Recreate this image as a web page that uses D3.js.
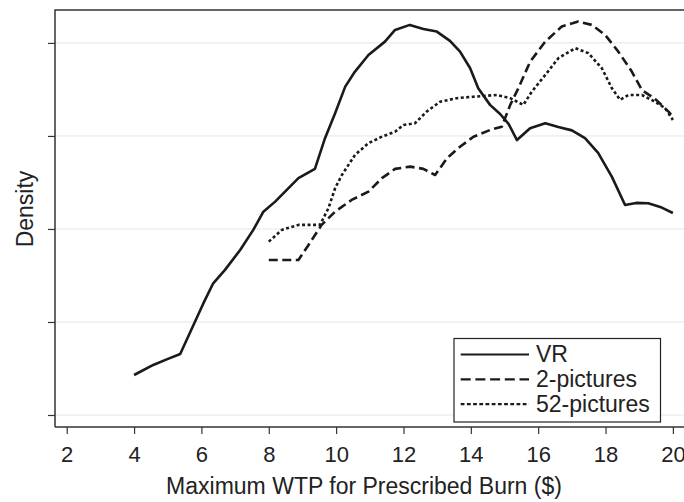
<!DOCTYPE html>
<html><head><meta charset="utf-8">
<script src="https://cdn.jsdelivr.net/npm/d3@7"></script>
<style>body{margin:0;background:#fff;} svg{display:block;font-family:"Liberation Sans",Arial,sans-serif;}</style>
</head><body><div id="chart"></div>
<script>
const xTicks = [2,4,6,8,10,12,14,16,18,20];
const yTicks = [0,0.05,0.1,0.15,0.2];
const seriesNames = ["VR","2-pictures","52-pictures"];
const vrX = [4.0,4.57,4.97,5.37,6.06,6.35,6.70,7.15,7.54,7.84,8.19,8.88,9.37,9.67,9.97,10.27,10.56,10.96,11.45,11.75,12.19,12.59,12.99,13.38,13.68,13.98,14.22,14.57,14.87,15.12,15.37,15.76,16.21,16.60,17.00,17.39,17.78,18.19,18.58,18.91,19.27,19.67,20.0];
const vrY = [0.0215,0.0269,0.0299,0.0328,0.0601,0.0708,0.0780,0.0887,0.0995,0.1093,0.1147,0.1273,0.1323,0.1488,0.1622,0.1765,0.1846,0.1935,0.2007,0.2070,0.2097,0.2075,0.2061,0.2011,0.1953,0.1864,0.1756,0.1667,0.1618,0.1565,0.1478,0.1541,0.1568,0.1548,0.1530,0.1488,0.1409,0.1280,0.1129,0.1140,0.1138,0.1115,0.1086];
const p2X = [8.0,8.88,9.18,9.57,9.97,10.46,10.96,11.36,11.75,12.20,12.59,12.94,13.30,13.68,14.08,14.57,14.92,15.17,15.41,15.76,16.21,16.70,17.19,17.59,17.99,18.38,18.78,19.08,19.47,19.87,20.0];
const p2Y = [0.0833,0.0833,0.0914,0.1022,0.1093,0.1156,0.1201,0.1273,0.1323,0.1335,0.1323,0.1290,0.1382,0.1442,0.1496,0.1532,0.1550,0.1667,0.1756,0.1899,0.2007,0.2088,0.2115,0.2097,0.2043,0.1953,0.1846,0.1747,0.1699,0.1631,0.1602];
const p52X = [8.0,8.39,8.88,9.52,9.77,9.97,10.17,10.56,10.96,11.36,11.75,12.00,12.34,12.69,13.09,13.58,14.08,14.77,15.17,15.56,15.81,16.21,16.60,17.10,17.49,17.89,18.19,18.43,18.68,19.08,19.47,19.77,20.0];
const p52Y = [0.0932,0.0995,0.1022,0.1022,0.1111,0.1219,0.1290,0.1398,0.1461,0.1496,0.1523,0.1559,0.1568,0.1631,0.1684,0.1703,0.1711,0.1720,0.1703,0.1667,0.1738,0.1828,0.1918,0.1972,0.1945,0.1864,0.1756,0.1694,0.1720,0.1720,0.1684,0.1649,0.1586];

const W = 684, H = 502;
const L = 55, T = 10, B = 427, R = 684;
const svg = d3.select("#chart").append("svg").attr("width", W).attr("height", H);
const x = d3.scaleLinear().domain([1.652, 20.33]).range([L, R]);
const y = d3.scaleLinear().domain([-0.00645, 0.2177]).range([B, T]);

// grid
svg.append("g").selectAll("line").data(yTicks).join("line")
  .attr("x1", L).attr("x2", R).attr("y1", d => y(d)).attr("y2", d => y(d))
  .attr("stroke", "#e6e6e6").attr("stroke-width", 1);

// frame (top + left), right side off-canvas
svg.append("path").attr("d", `M${R+10},${T}H${L}V${B}`).attr("fill","none").attr("stroke","#333").attr("stroke-width",1.5);

// axes
const xAxis = d3.axisBottom(x).tickValues(xTicks).tickSize(7).tickPadding(10).tickFormat(d3.format("d"));
const gx = svg.append("g").attr("transform", `translate(0,${B})`).call(xAxis);
gx.select(".domain").attr("d", `M${L},0H${R+10}`).attr("stroke","#333").attr("stroke-width",1.5);
gx.selectAll(".tick line").attr("stroke","#333").attr("stroke-width",1.2);
gx.selectAll("text").attr("font-size", 22).attr("fill","#222").attr("font-family","Liberation Sans, Arial, sans-serif")
  .attr("dy", null).attr("y", 34.5);

const yAxis = d3.axisLeft(y).tickValues(yTicks).tickSize(7).tickFormat("");
const gy = svg.append("g").attr("transform", `translate(${L},0)`).call(yAxis);
gy.select(".domain").remove();
gy.selectAll(".tick line").attr("stroke","#333").attr("stroke-width",1.2);

// titles
svg.append("text").attr("x", 364).attr("y", 494).attr("text-anchor","middle")
  .attr("font-size", 23).attr("fill","#222").text("Maximum WTP for Prescribed Burn ($)");
svg.append("text").attr("transform", `translate(33,209) rotate(-90)`).attr("text-anchor","middle")
  .attr("font-size", 23).attr("fill","#222").text("Density");

// lines
const line = d3.line().x(d => x(d[0])).y(d => y(d[1]));
const series = [
  {name: seriesNames[0], pts: d3.zip(vrX, vrY), dash: null},
  {name: seriesNames[1], pts: d3.zip(p2X, p2Y), dash: "9,4.5"},
  {name: seriesNames[2], pts: d3.zip(p52X, p52Y), dash: "3,2.5"}
];
series.forEach(s => {
  svg.append("path").datum(s.pts).attr("d", line).attr("fill","none")
    .attr("stroke","#1a1a1a").attr("stroke-width", 2.6)
    .attr("stroke-linejoin","round")
    .attr("stroke-dasharray", s.dash);
});

// legend
const lg = svg.append("g");
lg.append("rect").attr("x", 454).attr("y", 338.5).attr("width", 206.5).attr("height", 83.5)
  .attr("fill","#fff").attr("stroke","#222").attr("stroke-width",1.2);
const legDash = [null, "10,4.7", "3.8,2.4"];
series.forEach((s, i) => {
  const yy = 354.5 + i*24.8;
  lg.append("line").attr("x1", 460.7).attr("x2", 529).attr("y1", yy).attr("y2", yy)
    .attr("stroke","#1a1a1a").attr("stroke-width", 2.2).attr("stroke-dasharray", legDash[i]);
  lg.append("text").attr("x", 536).attr("y", yy + 7.5).attr("font-size", 23).attr("fill","#222").text(s.name);
});
</script></body></html>
